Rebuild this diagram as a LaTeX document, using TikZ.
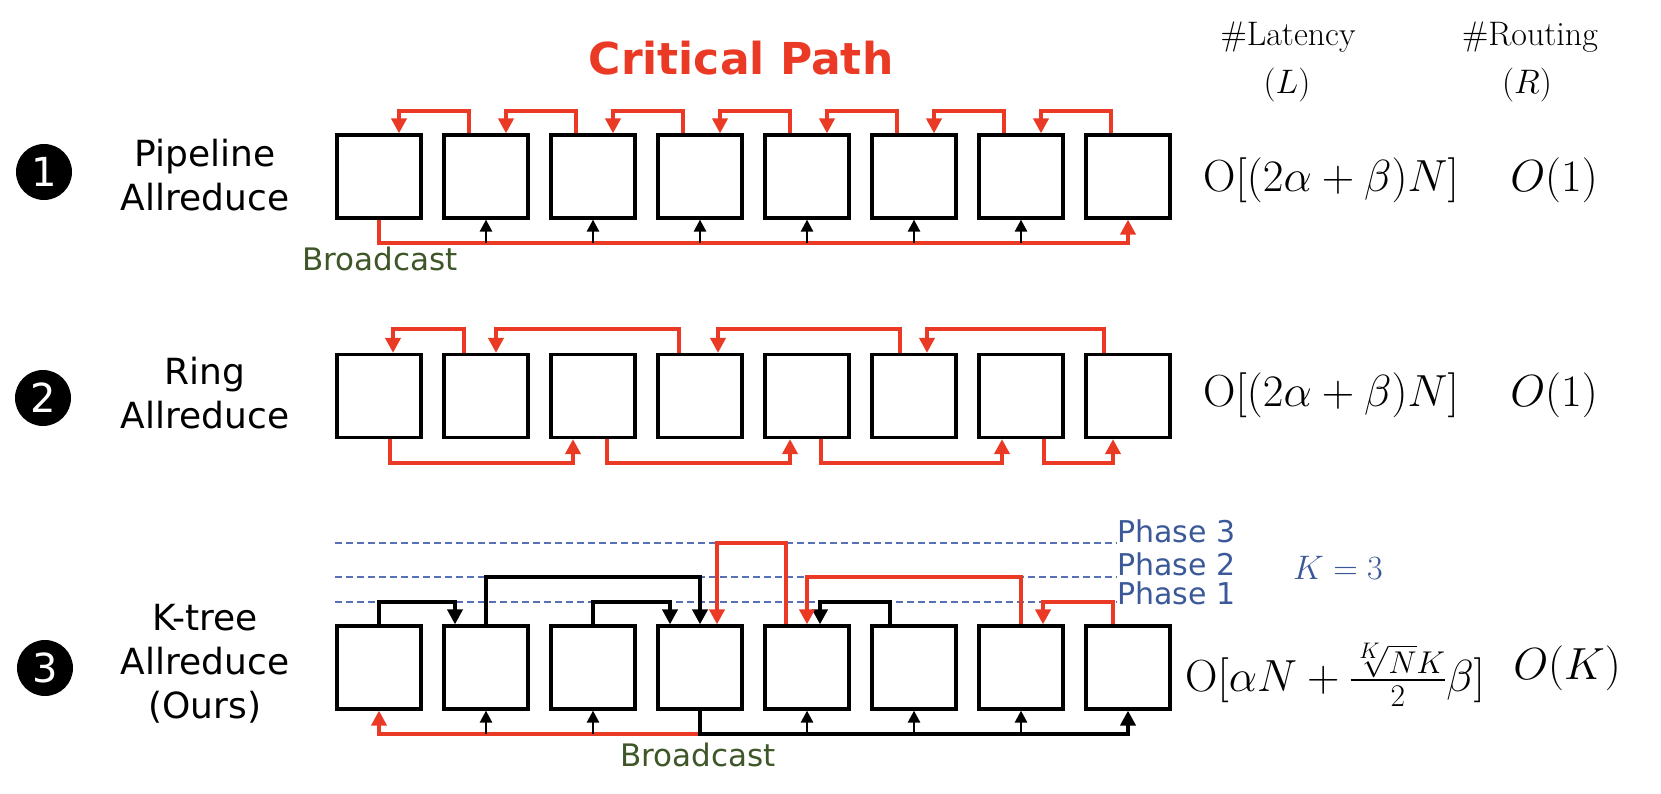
\RequirePackage{fix-cm}
\documentclass[tikz,border=0pt]{standalone}
\usepackage{amsmath}
\usepackage{amssymb}
\usepackage{fontspec}
\setsansfont{DejaVu Sans}
\usetikzlibrary{arrows.meta}

\definecolor{pathred}{RGB}{234,58,38}
\definecolor{phaseblue}{RGB}{59,89,152}
\definecolor{dashblue}{RGB}{88,112,182}
\definecolor{castgreen}{RGB}{62,86,40}

\begin{document}
\begin{tikzpicture}[x=1pt,y=-1pt,
  cell/.style={draw, line width=3.2pt, minimum width=84pt, minimum height=83pt, inner sep=0pt},
  crit/.style={pathred, line width=4.5pt, -{Triangle[length=15pt,width=15pt]}},
  tree/.style={black, line width=4.5pt, -{Triangle[length=15pt,width=15pt]}},
  feed/.style={black, line width=2.5pt, -{Triangle[length=12pt,width=12pt]}},
  phase/.style={dashblue, line width=1.6pt, dash pattern=on 7pt off 4pt},
  phasetxt/.style={text=phaseblue, anchor=west, inner sep=0pt, font=\sffamily\fontsize{30}{30}\selectfont},
  lbl/.style={align=center, font=\sffamily\fontsize{36}{44}\selectfont},
  cast/.style={text=castgreen, font=\sffamily\fontsize{31}{31}\selectfont},
  head/.style={font=\fontsize{34}{34}\selectfont},
  cost/.style={inner sep=0pt, font=\fontsize{45}{45}\selectfont},
  num/.style={circle, fill=black, text=white, minimum size=56pt, inner sep=0pt, font=\sffamily\fontsize{40}{40}\selectfont}]

\useasboundingbox (0,0) rectangle (1661,794);

% levels of the connectors
\coordinate (up1) at (0,111);
\coordinate (down1) at (0,243);
\coordinate (up2) at (0,329);
\coordinate (down2) at (0,463);
\coordinate (ph1) at (0,602);
\coordinate (ph2) at (0,577);
\coordinate (ph3) at (0,543);
\coordinate (down3) at (0,734);

% headers
\node [text=pathred, font=\sffamily\bfseries\fontsize{44}{44}\selectfont] (crit) at (741,58) {Critical Path};
\node [head] (lat) at (1288,37) {\#Latency};
\node [head] (latL) at (1287,85) {$(L)$};
\node [head] (rout) at (1530,37) {\#Routing};
\node [head] (routR) at (1527,85) {$(R)$};

% row labels
\node [num] (n1) at (44,172) {1};
\node [num] (n2) at (43,398) {2};
\node [num] (n3) at (45,668) {3};
\node [lbl] (r1) at (205,175) {Pipeline\\Allreduce};
\node [lbl] (r2) at (205,393) {Ring\\Allreduce};
\node [lbl] (r3) at (205,664) {K-tree\\Allreduce\\(Ours)};

% workers
\foreach \i in {1,...,8} {
    \node [cell] (a\i) at ({272+107*\i},176.5) {};
    \node [cell] (b\i) at ({272+107*\i},396) {};
    \node [cell] (c\i) at ({272+107*\i},667.5) {};
}

% pipeline
\foreach \i [evaluate=\i as \j using int(\i+1)] in {1,...,7}
    \draw [crit] ([xshift=-17pt]a\j.north) -- ([xshift=-17pt]a\j.north |- up1) -| ([xshift=20pt]a\i.north);
\draw [crit] (a1.south) -- (a1.south |- down1) -| (a8.south);
\foreach \i in {2,...,7}
    \draw [feed] (a\i.south |- down1) -- (a\i.south);
\node [cast] (bc1) at (380,259) {Broadcast};

% ring
\foreach \s/\t/\ds/\dt in {2/1/-22pt/14pt, 4/2/-21pt/10pt, 6/4/-14pt/18pt, 8/6/-24pt/13pt}
    \draw [crit] ([xshift=\ds]b\s.north) -- ([xshift=\ds]b\s.north |- up2) -| ([xshift=\dt]b\t.north);
\foreach \s/\t/\ds/\dt in {1/3/11pt/-20pt, 3/5/14pt/-17pt, 5/7/14pt/-19pt, 7/8/23pt/-15pt}
    \draw [crit] ([xshift=\ds]b\s.south) -- ([xshift=\ds]b\s.south |- down2) -| ([xshift=\dt]b\t.south);

% k-tree
\node [phasetxt] (p3) at (1117,531) {Phase 3};
\node [phasetxt] (p2) at (1117,564) {Phase 2};
\node [phasetxt] (p1) at (1117,593) {Phase 1};
\foreach \k in {1,2,3}
    \draw [phase] (c1.west |- ph\k) -- (p\k.west |- ph\k);
\node [text=phaseblue, font=\fontsize{34}{34}\selectfont] (kk) at (1338,568) {$K=3$};

\draw [tree] (c1.north) -- (c1.north |- ph1) -| ([xshift=-31pt]c2.north);
\draw [tree] (c3.north) -- (c3.north |- ph1) -| ([xshift=-30pt]c4.north);
\draw [tree] ([xshift=-24pt]c6.north) -- ([xshift=-24pt]c6.north |- ph1) -| ([xshift=13pt]c5.north);
\draw [tree] (c2.north) -- (c2.north |- ph2) -| (c4.north);
\draw [crit] (c7.north) -- (c7.north |- ph2) -| (c5.north);
\draw [crit] ([xshift=-15pt]c8.north) -- ([xshift=-15pt]c8.north |- ph1) -| ([xshift=22pt]c7.north);
\draw [crit] ([xshift=-21pt]c5.north) -- ([xshift=-21pt]c5.north |- ph3) -| ([xshift=17pt]c4.north);

\draw [crit] (c4.south |- down3) -| (c1.south);
\draw [tree] (c4.south) -- (c4.south |- down3) -| (c8.south);
\foreach \i in {2,3,5,6,7}
    \draw [feed] (c\i.south |- down3) -- (c\i.south);
\node [cast] (bc3) at (698,755) {Broadcast};

% costs
\node [cost] (l1) at (1331,180) {$\mathrm{O}[(2\alpha+\beta)N]$};
\node [cost] (o1) at (1554,180) {$O(1)$};
\node [cost] (l2) at (1331,395) {$\mathrm{O}[(2\alpha+\beta)N]$};
\node [cost] (o2) at (1554,395) {$O(1)$};
\node [cost] (l3) at (1335,675) {$\mathrm{O}[\alpha N+\frac{\sqrt[K]{N}K}{2}\beta]$};
\node [cost] (o3) at (1567,668) {$O(K)$};

\end{tikzpicture}
\end{document}
